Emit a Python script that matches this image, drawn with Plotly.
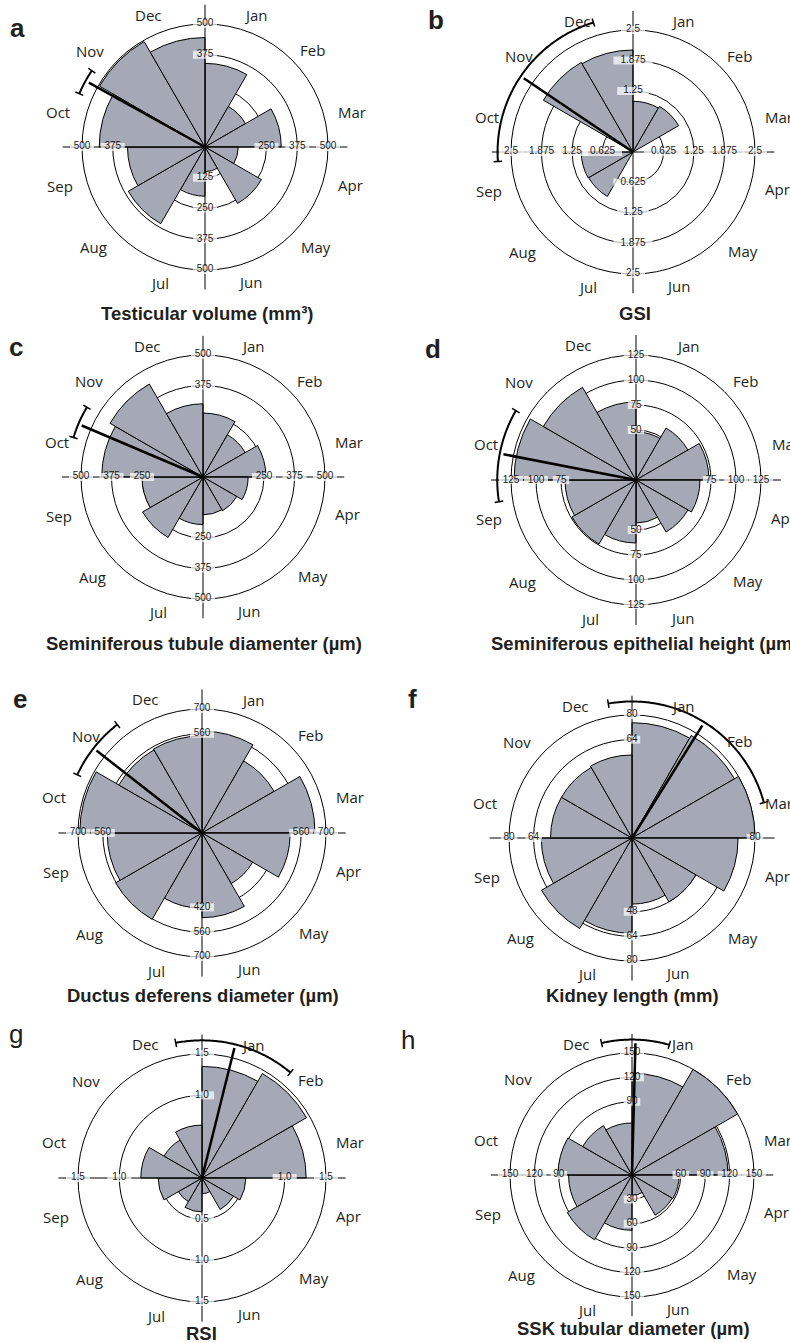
import numpy as np
import plotly.graph_objects as go

MONTHS = ["Jan", "Feb", "Mar", "Apr", "May", "Jun", "Jul", "Aug", "Sep", "Oct", "Nov", "Dec"]

# ---- monthly values ----
testicular_volume = [340, 190, 310, 135, 265, 100, 200, 360, 315, 430, 495, 445]
gsi = [1.04, 1.08, 0, 0, 0, 0, 0, 1.05, 1.06, 0, 2.12, 2.09]
tubule_diameter = [262, 200, 258, 185, 160, 155, 195, 286, 250, 415, 440, 300]
epithelial_height = [48, 60, 73, 64, 60, 43, 63, 74, 71, 122, 107, 78]
ductus_diameter = [575, 470, 638, 498, 330, 478, 425, 563, 535, 690, 542, 548]
kidney_length = [75, 77, 80, 69, 48, 43, 62, 68, 59, 53, 53, 54]
rsi = [1.35, 1.46, 1.26, 0.53, 0.44, 0.19, 0.41, 0.33, 0.53, 0.74, 0.53, 0.64]
ssk_diameter = [125, 150, 118, 58, 57, 25, 68, 92, 78, 91, 70, 64]

# ---- ring (radial tick) values and labels ----
ticks_a = [125, 250, 375, 500]
ticks_b = [0.625, 1.25, 1.875, 2.5]
labels_b = ["0.625", "1.25", "1.875", "2.5"]
ticks_c = [125, 250, 375, 500]
ticks_d = [25, 50, 75, 100, 125]
ticks_e = [140, 280, 420, 560, 700]
ticks_f = [16, 32, 48, 64, 80]
ticks_g = [0.5, 1.0, 1.5]
labels_g = ["0.5", "1.0", "1.5"]
ticks_h = [30, 60, 90, 120, 150]

# ---- mean direction (deg, clockwise from Jan 1) and its confidence interval ----
mean_angle = [299, 304, 293, 281, 308, 32, 14, 1.5]
ci_low = [293, 266, 287, 261, 295, -10, -11, -13]
ci_high = [304, 343, 301, 300, 322, 75, 40, 16]

titles = ["Testicular volume (mm³)", "GSI", "Seminiferous tubule diamenter (µm)",
          "Seminiferous epithelial height (µm)", "Ductus deferens diameter (µm)",
          "Kidney length (mm)", "RSI", "SSK tubular diameter (µm)"]
letters = ["a", "b", "c", "d", "e", "f", "g", "h"]

values = [testicular_volume, gsi, tubule_diameter, epithelial_height,
          ductus_diameter, kidney_length, rsi, ssk_diameter]
ticks = [ticks_a, ticks_b, ticks_c, ticks_d, ticks_e, ticks_f, ticks_g, ticks_h]
tick_labels = [None, labels_b, None, None, None, None, labels_g, None]

# ---- layout geometry (pixels) / styling ----
W, H = 790, 1343
centers = [(205, 147), (633, 152), (203, 477), (636, 480),
           (202, 833), (632, 838), (202, 1178), (632, 1175)]
ring_px = [123, 122, 122, 125, 124, 123, 124, 122]
title_pos = [(207, 313), (635, 313), (204, 643), (645, 643),
             (203, 995), (632, 995), (202, 1333), (633, 1328)]
letter_pos = [(17, 28), (436, 20), (16, 347), (433, 349),
              (20, 699), (412, 699), (16, 1034), (408, 1040)]
letter_bold = [True, True, True, True, True, True, False, False]
# month label placement (angle nudge in degrees, radius in units of outer ring)
lab_nudge = [6, 3, 1.5, -0.5, -3, -3.5, 3.5, 3, 0, -1.5, -5, -8]
lab_rad = [1.15, 1.18, 1.23, 1.22, 1.21, 1.16, 1.17, 1.22, 1.22, 1.23, 1.22, 1.17]

EXT = 1.16
BAR = "#a4a9b5"
INK = "#231f20"
mid = [15 + 30 * k for k in range(12)]
adjacent = {0: (11, 0), 90: (2, 3), 180: (5, 6), 270: (8, 9)}

fig = go.Figure()
layout_polars = {}
annotations = []
for i in range(8):
    sub = "polar" if i == 0 else f"polar{i + 1}"
    vals = values[i]
    tv = ticks[i]
    vmax = tv[-1]
    tl = tick_labels[i] or [str(int(v)) if float(v).is_integer() else str(v) for v in tv]

    fig.add_trace(go.Barpolar(
        r=vals, theta=mid, width=[30] * 12, subplot=sub,
        marker=dict(color=BAR, line=dict(color="black", width=1)),
        hoverinfo="skip"))

    L = EXT * vmax
    fig.add_trace(go.Scatterpolar(
        r=[L, 0, L, None, L, 0, L], theta=[0, 0, 180, None, 90, 90, 270],
        mode="lines", line=dict(color="black", width=1), subplot=sub, hoverinfo="skip"))

    # ring labels on the four axis directions (white box behind each label)
    rr, th, tx = [], [], []
    for ang, (a1, a2) in adjacent.items():
        for v, s in zip(tv, tl):
            if min(vals[a1], vals[a2]) > v * 1.02 and v != vmax:
                continue
            rr.append(v); th.append(ang); tx.append(s)
    fig.add_trace(go.Scatterpolar(
        r=rr, theta=th, text=tx, mode="markers+text", textposition="middle center",
        subplot=sub, hoverinfo="skip",
        marker=dict(symbol="line-ew", size=[len(s) * 5.4 + 1 for s in tx], color="white",
                    line=dict(color="white", width=8)),
        textfont=dict(family="Liberation Sans", size=10, color="#1a1a1a")))

    # mean vector
    fig.add_trace(go.Scatterpolar(
        r=[0, 1.08 * vmax], theta=[mean_angle[i]] * 2, mode="lines",
        line=dict(color="black", width=2.5), subplot=sub, hoverinfo="skip"))
    # confidence arc
    arc_t = np.linspace(ci_low[i], ci_high[i], 80)
    ra = 1.11 * vmax
    fig.add_trace(go.Scatterpolar(
        r=[ra] * len(arc_t), theta=arc_t, mode="lines",
        line=dict(color="black", width=2), subplot=sub, hoverinfo="skip"))
    fig.add_trace(go.Scatterpolar(
        r=[ra - 0.035 * vmax, ra + 0.035 * vmax, None, ra - 0.035 * vmax, ra + 0.035 * vmax],
        theta=[ci_low[i], ci_low[i], None, ci_high[i], ci_high[i]], mode="lines",
        line=dict(color="black", width=1.5), subplot=sub, hoverinfo="skip"))

    cx, cy = centers[i]
    Rr = ring_px[i]
    R = EXT * Rr
    layout_polars[sub] = dict(
        domain=dict(x=[max(0, (cx - R) / W), min(1, (cx + R) / W)],
                    y=[max(0, 1 - (cy + R) / H), min(1, 1 - (cy - R) / H)]),
        bgcolor="white", bargap=0,
        radialaxis=dict(range=[0, L], tickvals=tv, showticklabels=False, ticks="",
                        showline=False, gridcolor="black", gridwidth=1),
        angularaxis=dict(rotation=90, direction="clockwise", tickvals=mid,
                         showticklabels=False, showgrid=False, showline=False, ticks=""),
    )

    # month labels around the outer ring
    for k, m in enumerate(MONTHS):
        a = np.deg2rad(mid[k] + lab_nudge[k])
        px = cx + lab_rad[k] * Rr * np.sin(a)
        py = cy - lab_rad[k] * Rr * np.cos(a)
        annotations.append(dict(text=m, x=px / W, y=1 - py / H, xref="paper", yref="paper",
                                xanchor="center", yanchor="middle", showarrow=False,
                                font=dict(family="Open Sans", size=15, color=INK)))

    x, y = title_pos[i]
    annotations.append(dict(text=f"<b>{titles[i]}</b>", x=x / W, y=1 - y / H, xref="paper", yref="paper",
                            xanchor="center", yanchor="middle", showarrow=False,
                            font=dict(family="Liberation Sans", size=18.5, color=INK)))
    x, y = letter_pos[i]
    t = f"<b>{letters[i]}</b>" if letter_bold[i] else letters[i]
    annotations.append(dict(text=t, x=x / W, y=1 - y / H, xref="paper", yref="paper",
                            xanchor="center", yanchor="middle", showarrow=False,
                            font=dict(family="Liberation Sans", size=26, color=INK)))

fig.update_layout(width=W, height=H, margin=dict(l=0, r=0, t=0, b=0),
                  paper_bgcolor="white", plot_bgcolor="white", showlegend=False,
                  annotations=annotations, **layout_polars)
fig.write_html("out.html", config={"displayModeBar": False},
               post_script="document.body.style.margin='0px';")
